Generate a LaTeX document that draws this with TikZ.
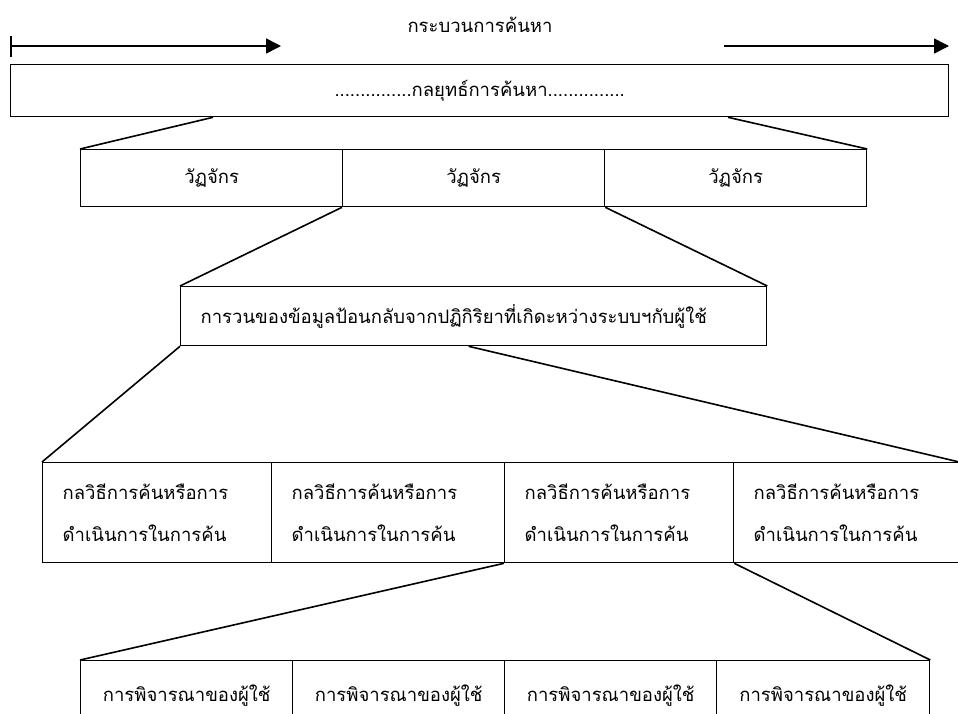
\documentclass[tikz,border=0pt]{standalone}
\usepackage{fontspec}
\newfontfamily\thaifont[Script=Thai]{Loma}
\usetikzlibrary{calc, arrows.meta}

\begin{document}
\begin{tikzpicture}[x=1pt, y=-1pt,
        every node/.style={font=\thaifont\fontsize{18.5}{42}\selectfont},
        box/.style={draw, line width=1.3pt, rectangle, inner sep=0pt, anchor=north west},
        cycbox/.style={box, minimum width=262pt, minimum height=57pt},
        methbox/.style={box, minimum height=100pt, text width=189pt, inner xsep=20pt, align=left},
        userbox/.style={box, minimum width=212pt, minimum height=70pt},
        link/.style={line width=1.6pt},
        ]
    \clip (0, 0) rectangle (958, 713);

    \node (title) at (480, 25) {กระบวนการค้นหา};
    \coordinate (L0) at (10, 46);
    \coordinate (L1) at (281, 46);
    \coordinate (R0) at (724, 46);
    \coordinate (R1) at (949, 46);
    \draw [link, {Bar[width=21pt]}-{Triangle[length=15pt, width=15pt]}] (L0) -- (L1);
    \draw [link, -{Triangle[length=15pt, width=15pt]}] (R0) -- (R1);

    \node (top) at (10, 64) [box, minimum width=938pt, minimum height=52pt] {...............กลยุทธ์การค้นหา...............};

    \node (C1) at (80, 149) [cycbox] {วัฏจักร};
    \node (C2) at (342, 149) [cycbox] {วัฏจักร};
    \node (C3) at (604, 149) [cycbox] {วัฏจักร};

    \draw [link] ($(top.south west) + (203, 0)$) -- (C1.north west);
    \draw [link] ($(top.south west) + (718, 0)$) -- (C3.north east);

    \node (fb) at (180, 286) [box, minimum height=59pt, text width=546pt, inner xsep=20pt, align=left] {การวนของข้อมูลป้อนกลับจากปฏิกิริยาที่เกิดะหว่างระบบฯกับผู้ใช้};

    \draw [link] (C2.south west) -- (fb.north west);
    \draw [link] (C2.south east) -- (fb.north east);

    \node (M1) at (42, 462) [methbox] {กลวิธีการค้นหรือการ\\ดำเนินการในการค้น};
    \node (M2) at (271, 462) [methbox, text width=193pt] {กลวิธีการค้นหรือการ\\ดำเนินการในการค้น};
    \node (M3) at (504, 462) [methbox] {กลวิธีการค้นหรือการ\\ดำเนินการในการค้น};
    \node (M4) at (733, 462) [methbox] {กลวิธีการค้นหรือการ\\ดำเนินการในการค้น};

    \draw [link] (fb.south west) -- (M1.north west);
    \draw [link] ($(fb.south) + (-5, 0)$) -- ($(M4.north east) + (-4, 0)$);

    \node (U1) at (80, 660) [userbox] {การพิจารณาของผู้ใช้};
    \node (U2) at (292, 660) [userbox] {การพิจารณาของผู้ใช้};
    \node (U3) at (504, 660) [userbox] {การพิจารณาของผู้ใช้};
    \node (U4) at (716, 660) [userbox, minimum width=213pt] {การพิจารณาของผู้ใช้};

    \draw [link] (M3.south west) -- (U1.north west);
    \draw [link] (M3.south east) -- (U4.north east);
\end{tikzpicture}
\end{document}
